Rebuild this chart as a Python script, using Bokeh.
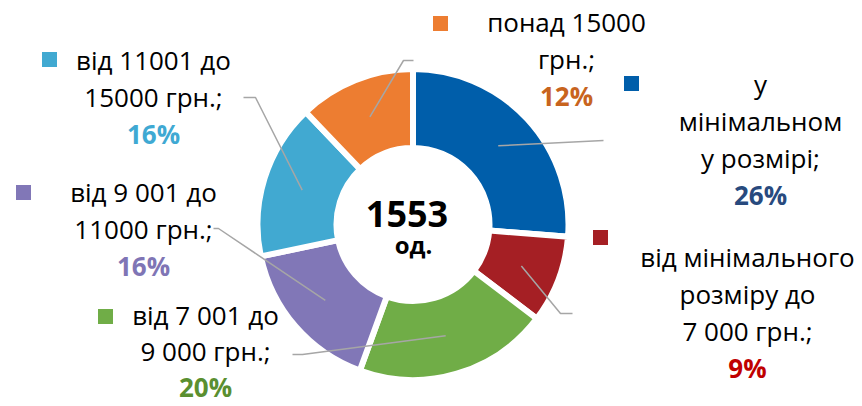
import math
from bokeh.plotting import figure
from bokeh.models import Range1d, ColumnDataSource
from bokeh.core.properties import value
from bokeh.embed import file_html
from bokeh.resources import INLINE

# ---- data ----
categories = ["у мінімальном у розмірі", "від мінімального розміру до 7 000 грн.",
              "від 7 001 до 9 000 грн.", "від 9 001 до 11000 грн.",
              "від 11001 до 15000 грн.", "понад 15000 грн."]
shares = [26, 9, 20, 16, 16, 12]
label_lines = [["у", "мінімальном", "у розмірі;"],
               ["від мінімального", "розміру до", "7 000 грн.;"],
               ["від 7 001 до", "9 000 грн.;"],
               ["від 9 001 до", "11000 грн.;"],
               ["від 11001 до", "15000 грн.;"],
               ["понад 15000", "грн.;"]]
total_text = "1553"
unit_text = "од."

# ---- styles / layout ----
slice_colors = ["#005EAA", "#A51F24", "#70AD47", "#8177B7", "#41A9D1", "#ED7D31"]
pct_colors = ["#284A7E", "#C00000", "#5A8F30", "#7F75B5", "#3FA9D3", "#C8641E"]
FONT = value("Open Sans")
W, H = 862, 406
FW, FH = W, H
TXT_OFF = 12  # baseline correction for rendered text


def Y(sy):
    return H - sy


def YT(sy):
    return H - (sy - TXT_OFF)


cx, cy = 412.5, Y(224)
r_out, r_in = 155.5, 76.5
r_mid = 116

# label layout (screen coords): text center x, first baseline y, line gap, marker center, leader points
lab_cx = [760, 747, 205, 143, 153, 566]
lab_base = [95, 268, 326, 203, 71, 33]
lab_gap = [37, 37, 36, 37, 37, 37]
marker_pos = [(631, 83), (600, 237), (105, 316), (23, 192), (49, 59), (440, 23)]
leader_pts = [[(603, 140)], [(560, 313), (572, 313)], [(302, 354), (292, 354)],
              [(218, 228), (213, 228)], [(255, 97), (243, 97)], [(403, 60), (413, 60)]]

p = figure(width=FW, height=FH, output_backend="svg", toolbar_location=None,
           x_range=Range1d(0, FW), y_range=Range1d(H - FH, H), min_border=0)
p.axis.visible = False
p.grid.visible = False
p.outline_line_color = None
p.background_fill_color = "white"
p.border_fill_color = "white"

tot = sum(shares)
starts, ends, mids = [], [], []
cum = 0
for s in shares:
    a0 = math.pi / 2 - 2 * math.pi * cum / tot
    cum += s
    a1 = math.pi / 2 - 2 * math.pi * cum / tot
    starts.append(a0)
    ends.append(a1)
    mids.append((a0 + a1) / 2)

src = ColumnDataSource(dict(start=starts, end=ends, color=slice_colors))
p.annular_wedge(x=cx, y=cy, inner_radius=r_in, outer_radius=r_out, start_angle="start",
                end_angle="end", direction="clock", fill_color="color",
                line_color="white", line_width=6, source=src)

# leader lines
for i, m in enumerate(mids):
    xs = [cx + r_mid * math.cos(m)] + [pt[0] for pt in leader_pts[i]]
    ys = [cy + r_mid * math.sin(m)] + [Y(pt[1]) for pt in leader_pts[i]]
    p.line(xs, ys, line_color="#A6A6A6", line_width=1.5)

# labels
for i, lines in enumerate(label_lines):
    for j, t in enumerate(lines):
        p.text(x=[lab_cx[i]], y=[YT(lab_base[i] + j * lab_gap[i])], text=[t],
               text_align="center", text_baseline="alphabetic", text_font=FONT,
               text_font_size="26px", text_color="#000000")
    p.text(x=[lab_cx[i]], y=[YT(lab_base[i] + len(lines) * lab_gap[i])], text=[f"{shares[i]}%"],
           text_align="center", text_baseline="alphabetic", text_font=FONT,
           text_font_size="26px", text_font_style="bold", text_color=pct_colors[i])
    mx, my = marker_pos[i]
    p.scatter(x=[mx], y=[Y(my)], marker="square", size=15, fill_color=slice_colors[i],
              line_color=None)

# center text
p.text(x=[406.5], y=[YT(225)], text=[total_text], text_align="center", text_baseline="alphabetic",
       text_font=FONT, text_font_size="36px", text_font_style="bold", text_color="#000000")
p.text(x=[413], y=[YT(256)], text=[unit_text], text_align="center", text_baseline="alphabetic",
       text_font=FONT, text_font_size="24px", text_font_style="bold", text_color="#000000")

open("out.html", "w").write(file_html(p, INLINE))
